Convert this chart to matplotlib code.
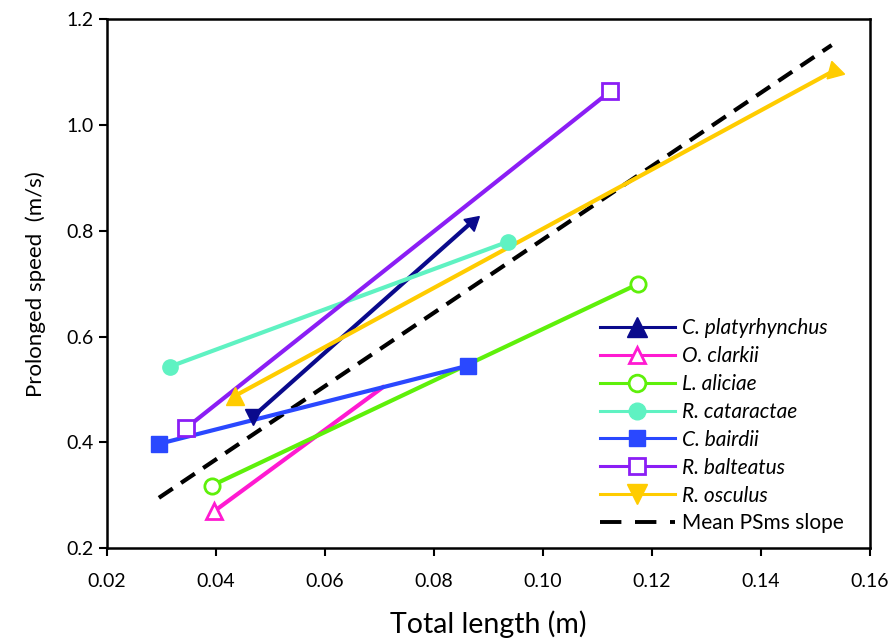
import matplotlib
matplotlib.use('Agg')
import matplotlib.pyplot as plt

# 종별 데이터 (총 길이 m, 지속 속도 m/s)
species = ['C. platyrhynchus', 'O. clarkii', 'L. aliciae', 'R. cataractae',
           'C. bairdii', 'R. balteatus', 'R. osculus']
length_x = [[0.0467, 0.0869], [0.0397, 0.0706], [0.0392, 0.1174], [0.0315, 0.0935],
            [0.0295, 0.0863], [0.0345, 0.1124], [0.0435, 0.1535]]
speed_y = [[0.448, 0.816], [0.270, 0.504], [0.318, 0.699], [0.543, 0.779],
           [0.397, 0.545], [0.427, 1.064], [0.488, 1.103]]
colors = ['#0a0a8c', '#ff1ad1', '#5ef00a', '#5ff2c2', '#2a48ff', '#8b1ef5', '#ffcc00']

# 평균 기울기 선
mean_x = [0.0295, 0.1530]
mean_y = [0.295, 1.151]

plt.rcParams['font.family'] = ['Lato', 'DejaVu Sans']

fig = plt.figure(figsize=(8.93, 6.41), dpi=100)
ax = fig.add_axes([0.120, 0.145, 0.854, 0.825])

lw = 3.0     # 그래프 선 두께
llw = 2.2    # 범례 선 두께
ms = 11

for i, name in enumerate(species):
    c = colors[i]
    x = length_x[i]
    y = speed_y[i]
    ax.plot(x, y, color=c, linewidth=lw, zorder=3)
    if i == 0:  # 화살표 모양
        ax.plot(x[0], y[0], marker='v', color=c, markersize=ms, linestyle='none', zorder=4)
        ax.plot(x[1], y[1], marker=(3, 0, -49), color=c, markersize=ms + 2, linestyle='none', zorder=4)
        ax.plot([], [], color=c, linewidth=llw, marker='^', markersize=ms + 3, label=name)
    elif i == 1:
        ax.plot(x[0], y[0], marker='^', color=c, mfc='white', mew=2, markersize=ms, linestyle='none', zorder=4)
        ax.plot([], [], color=c, linewidth=llw, marker='^', mfc='white', mew=2, markersize=ms + 1, label=name)
    elif i == 2:
        ax.plot(x, y, marker='o', color=c, mfc='white', mew=2, markersize=ms, linestyle='none', zorder=4)
        ax.plot([], [], color=c, linewidth=llw, marker='o', mfc='white', mew=2, markersize=ms + 1, label=name)
    elif i == 3:
        ax.plot(x, y, marker='o', color=c, markersize=ms, linestyle='none', zorder=4)
        ax.plot([], [], color=c, linewidth=llw, marker='o', markersize=ms + 1, label=name)
    elif i == 4:
        ax.plot(x, y, marker='s', color=c, markersize=ms, linestyle='none', zorder=4)
        ax.plot([], [], color=c, linewidth=llw, marker='s', markersize=ms + 1, label=name)
    elif i == 5:
        ax.plot(x, y, marker='s', color=c, mfc='white', mew=2, markersize=ms, linestyle='none', zorder=4)
        ax.plot([], [], color=c, linewidth=llw, marker='s', mfc='white', mew=2, markersize=ms + 1, label=name)
    else:
        ax.plot(x[0], y[0], marker='^', color=c, markersize=ms + 2, linestyle='none', zorder=4)
        ax.plot(x[1], y[1], marker=(3, 0, 15), color=c, markersize=ms + 4, linestyle='none', zorder=4)
        ax.plot([], [], color=c, linewidth=llw, marker='v', markersize=ms + 3, label=name)

ax.plot(mean_x, mean_y, color='black', linewidth=lw, linestyle=(0, (4.0, 2.4)),
        zorder=2)
ax.plot([], [], color='black', linewidth=llw + 0.6, linestyle=(0, (5.5, 3.5)),
        label='Mean PSms slope')

ax.set_xlim(0.02, 0.16)
ax.set_ylim(0.2, 1.2)
ax.set_xticks([0.02, 0.04, 0.06, 0.08, 0.10, 0.12, 0.14, 0.16])
ax.set_xticklabels(['0.02', '0.04', '0.06', '0.08', '0.10', '0.12', '0.14', '0.16'])
ax.set_yticks([0.2, 0.4, 0.6, 0.8, 1.0, 1.2])
ax.set_yticklabels(['0.2', '0.4', '0.6', '0.8', '1.0', '1.2'])
ax.tick_params(direction='out', length=6, width=1.5, labelsize=14, pad=4)
ax.tick_params(axis='x', pad=12)
for s in ax.spines.values():
    s.set_linewidth(1.8)

ax.set_xlabel('Total length (m)', fontsize=20.5, labelpad=15)
ax.set_ylabel('Prolonged speed  (m/s)', fontsize=16, labelpad=14)

leg = ax.legend(loc='lower left', bbox_to_anchor=(0.627, 0.0), frameon=False,
                fontsize=15, handlelength=3.6, labelspacing=0.38, handletextpad=0.35,
                borderpad=0.2)
for t in leg.get_texts():
    if t.get_text() != 'Mean PSms slope':
        t.set_fontstyle('italic')

plt.savefig('out.png', dpi=100)
